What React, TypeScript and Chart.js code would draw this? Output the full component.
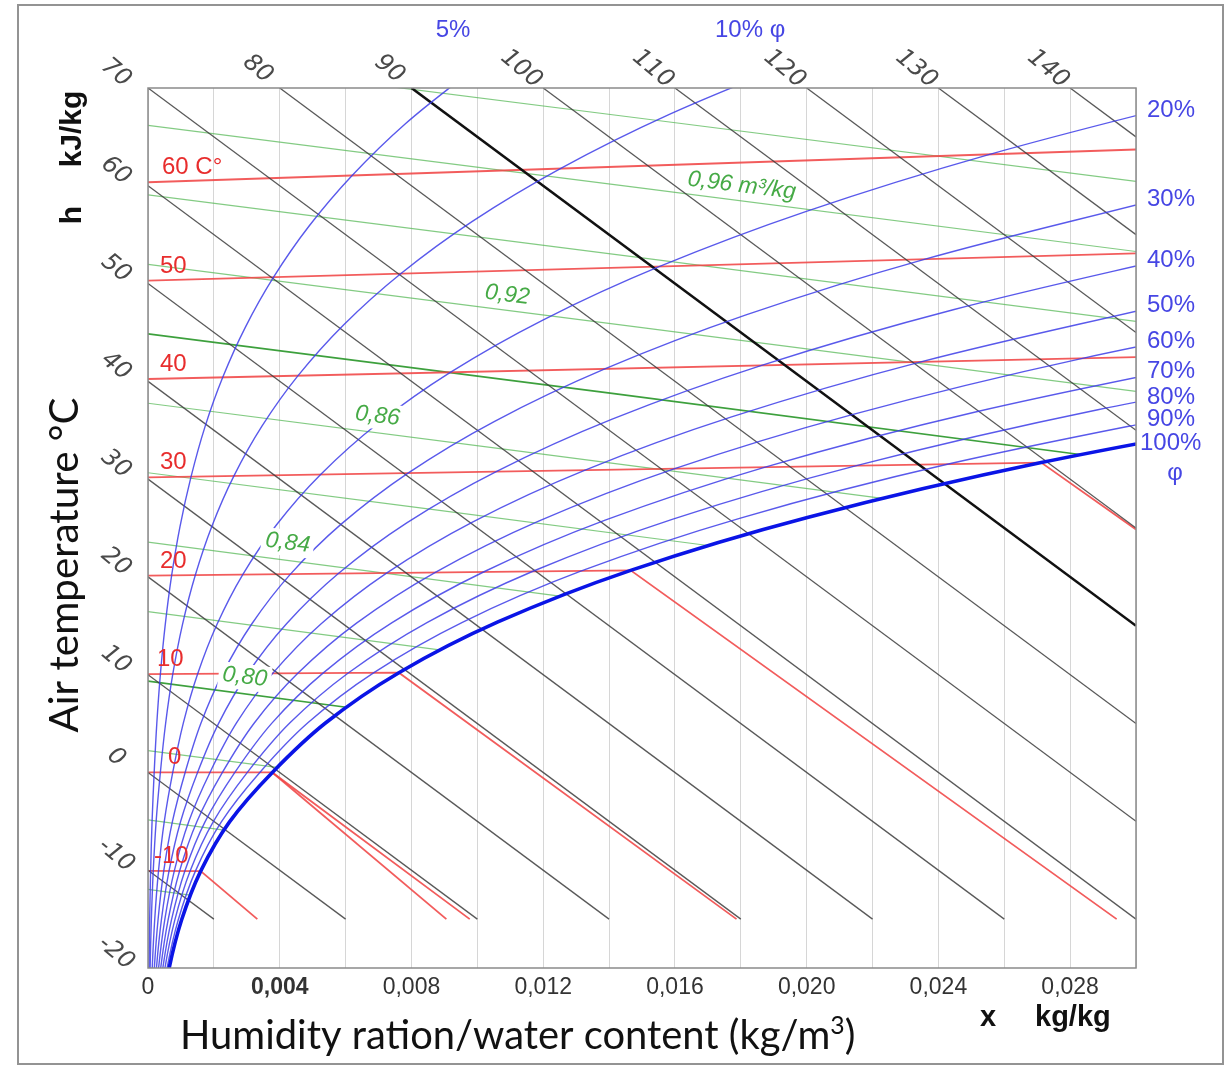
import React, { useEffect, useRef } from "react";
import { Chart, registerables } from "chart.js";

Chart.register(...registerables);

// ---------- data (x = water content kg/kg, y = chart temperature/enthalpy ordinate) ----------
const xTickValues = [0, 0.004, 0.008, 0.012, 0.016, 0.02, 0.024, 0.028];
const xTickLabels = ["0", "0,004", "0,008", "0,012", "0,016", "0,020", "0,024", "0,028"];

// relative humidity curves
const rh05 = [[0.0000194,-25.15],[0.0000317,-20.12],[0.0000507,-15.09],[0.0000798,-10.06],[0.0001233,-5.03],[0.0001876,0],[0.0002677,5.03],[0.0003765,10.06],[0.0005228,15.09],[0.0007167,20.12],[0.0009714,25.15],[0.0013023,30.18],[0.0017274,35.32],[0.0022697,40.41],[0.0029545,45.52],[0.0038126,50.65],[0.0048801,55.83],[0.0061981,61.05],[0.0078158,66.34],[0.00979,71.69]];
const rh10 = [[0.0000389,-25.15],[0.0000634,-20.12],[0.0001015,-15.09],[0.0001596,-10.06],[0.0002467,-5.03],[0.0003754,0],[0.0005357,5.03],[0.0007535,10.07],[0.0010464,15.12],[0.0014351,20.17],[0.0019459,25.24],[0.0026098,30.33],[0.0034647,35.44],[0.004556,40.58],[0.0059373,45.77],[0.0076723,51.01],[0.0098369,56.34],[0.012521,61.76],[0.01583,67.3],[0.019893,73.01]];
const rh20 = [[0.0000777,-25.15],[0.0001268,-20.12],[0.000203,-15.09],[0.0003191,-10.06],[0.0004936,-5.03],[0.0007513,0],[0.0010721,5.04],[0.0015088,10.09],[0.0020962,15.15],[0.0028769,20.23],[0.003904,25.33],[0.0052417,30.47],[0.0069682,35.66],[0.0091792,40.92],[0.011989,46.27],[0.015537,51.75],[0.01999,57.38],[0.025556,63.21],[0.032485,69.32]];
const rh30 = [[0.0001166,-25.15],[0.0001902,-20.12],[0.0003044,-15.09],[0.000479,-10.07],[0.0007407,-5.04],[0.0011276,0],[0.0016097,5.05],[0.002266,10.1],[0.0031498,15.18],[0.0043255,20.28],[0.0058745,25.42],[0.0078957,30.62],[0.010511,35.89],[0.013871,41.27],[0.018158,46.79],[0.023599,52.5],[0.030475,58.45]];
const rh40 = [[0.0001554,-25.15],[0.0002537,-20.12],[0.0004059,-15.1],[0.0006388,-10.07],[0.000988,-5.04],[0.0015044,0],[0.0021481,5.05],[0.003025,10.12],[0.0042068,15.21],[0.0057807,20.34],[0.0078573,25.52],[0.010573,30.77],[0.014094,36.13],[0.018633,41.63],[0.02445,47.32],[0.031868,53.26]];
const rh50 = [[0.0001943,-25.15],[0.0003171,-20.13],[0.0005074,-15.1],[0.0007987,-10.07],[0.0012355,-5.04],[0.0018817,0],[0.0026874,5.06],[0.0037859,10.13],[0.0052673,15.24],[0.0072426,20.39],[0.0098527,25.61],[0.013272,30.92],[0.017719,36.36],[0.023467,41.99],[0.030865,47.85]];
const rh60 = [[0.0002332,-25.15],[0.0003805,-20.13],[0.0006094,-15.11],[0.0009588,-10.08],[0.001483,-5.04],[0.0022594,0],[0.0032277,5.06],[0.0045486,10.14],[0.0063315,15.27],[0.0087115,20.44],[0.011861,25.7],[0.015994,31.07],[0.021383,36.6],[0.028375,42.35],[0.037408,48.4]];
const rh70 = [[0.000272,-25.15],[0.0004439,-20.14],[0.0007111,-15.11],[0.0011188,-10.08],[0.0017309,-5.05],[0.0026375,0],[0.0037689,5.07],[0.0053133,10.16],[0.0073993,15.3],[0.010187,20.5],[0.013882,25.8],[0.018741,31.23],[0.025092,36.84],[0.03336,42.72]];
const rh80 = [[0.0003109,-25.16],[0.0005073,-20.14],[0.0008129,-15.11],[0.001279,-10.08],[0.001979,-5.05],[0.0030162,0],[0.0043111,5.07],[0.0060796,10.17],[0.0084708,15.33],[0.01167,20.55],[0.015916,25.89],[0.021511,31.38],[0.028842,37.09],[0.038418,43.1]];
const rh90 = [[0.0003497,-25.16],[0.0005707,-20.15],[0.0009146,-15.12],[0.0014392,-10.09],[0.0022272,-5.05],[0.0033952,0],[0.0048541,5.08],[0.006848,10.19],[0.0095457,15.36],[0.01316,20.61],[0.017962,25.99],[0.024304,31.54],[0.032636,37.34]];
const rh100 = [[0.0003888,-25.16],[0.0006341,-20.14],[0.0010164,-15.12],[0.0015996,-10.09],[0.0024757,-5.05],[0.0037748,0],[0.0053982,5.08],[0.0076183,10.2],[0.010625,15.39],[0.014656,20.67],[0.020022,26.08],[0.027122,31.69],[0.036476,37.58]];
const rhCurves = [rh05, rh10, rh20, rh30, rh40, rh50, rh60, rh70, rh80, rh90];

// right-edge labels of the humidity curves (ordinate where each meets x = 0.030)
const rhLabels = ["20%", "30%", "40%", "50%", "60%", "70%", "80%", "90%", "100%"];
const rhLabelY = [67.24, 58.07, 51.87, 47.23, 43.54, 40.48, 37.88, 35.63, 33.65];

// isotherms (red); fog-region branches included
const isoM10 = [[0,-10.06],[0.0016,-10.09],[0.00332,-15]];
const iso0 = [[0,0],[0.003775,0],[0.00977,-15]];
const iso0Ice = [[0.003775,0],[0.00906,-15]];
const iso10 = [[0,10.06],[0.007618,10.2],[0.01787,-15]];
const iso20 = [[0,20.12],[0.014656,20.67],[0.029413,-15]];
const iso30 = [[0,30.18],[0.027122,31.69],[0.03,24.85]];
const iso40 = [[0,40.24],[0.03,42.47]];
const iso50 = [[0,50.3],[0.03,53.09]];
const iso60 = [[0,60.36],[0.03,63.71]];
const isotherms = [isoM10, iso0, iso0Ice, iso10, iso20, iso30, iso40, iso50, iso60];
const isoLabels = ["60 C°", "50", "40", "30", "20", "10", "0", "-10"];
const isoLabelY = [60.36, 50.3, 40.24, 30.18, 20.12, 10.06, 0, -10.06];

// enthalpy lines (black)
const enthalpyValues = [-10, 0, 10, 20, 30, 40, 50, 60, 70, 80, 90, 100, 110, 120, 130, 140];
const enthalpyStartX = [0, 0, 0, 0, 0, 0, 0, 0, 0, 0.004, 0.008, 0.012, 0.016, 0.02, 0.024, 0.028];
const enthalpyStartY = [-10, 0, 10, 20, 30, 40, 50, 60, 70, 70, 70, 70, 70, 70, 70, 70];
const enthalpyEndX = [0.002, 0.006, 0.01, 0.014, 0.018, 0.022, 0.026, 0.03, 0.03, 0.03, 0.03, 0.03, 0.03, 0.03, 0.03, 0.03];
const enthalpyEndY = [-15, -15, -15, -15, -15, -15, -15, -15, -5, 5, 15, 25, 35, 45, 55, 65];
const enthalpyLeftLabels = [70, 60, 50, 40, 30, 20, 10, 0, -10, -20];
const enthalpyTopLabels = [80, 90, 100, 110, 120, 130, 140];
const enthalpyTopX = [0.004, 0.008, 0.012, 0.016, 0.02, 0.024, 0.028];

// specific volume lines (green)
const vol074 = [[0,-11.96],[0.00128,-12.54]];
const vol076 = [[0,-4.86],[0.00231,-5.89]];
const vol078 = [[0,2.24],[0.00391,0.51]];
const vol080 = [[0,9.35],[0.00602,6.67]];
const vol082 = [[0,16.45],[0.00885,12.53]];
const vol084 = [[0,23.55],[0.0125,18.04]];
const vol086 = [[0,30.65],[0.0085,26.96],[0.017,23.21]];
const vol088 = [[0,37.76],[0.0111,32.93],[0.0223,28.03]];
const vol090 = [[0,44.86],[0.01415,38.74],[0.0283,32.52]];
const vol092 = [[0,51.96],[0.015,45.49],[0.03,38.97]];
const vol094 = [[0,59.07],[0.015,52.63],[0.03,46.13]];
const vol096 = [[0,66.17],[0.015,59.76],[0.03,53.28]];
const vol098 = [[0,73.28],[0.015,66.88],[0.03,60.44]];
const volumeLines = [vol074, vol076, vol078, vol080, vol082, vol084, vol086, vol088, vol090, vol092, vol094, vol096, vol098];
const volumeDark = [false, false, false, true, false, false, false, false, true, false, false, false, false];
const volLabels = ["0,96 m³/kg", "0,92", "0,86", "0,84", "0,80"];
const volLabelX = [0.01803, 0.01091, 0.00697, 0.00424, 0.00294];
const volLabelY = [60.0, 48.83, 36.45, 23.47, 9.76];

// ---------- helpers ----------
const pts = (arr: number[][]) => arr.map(([x, y]) => ({ x, y }));

function rotText(ctx: CanvasRenderingContext2D, text: string, x: number, y: number, deg: number, font: string, color: string, align: CanvasTextAlign = "center", baseline: CanvasTextBaseline = "middle") {
  ctx.save();
  ctx.translate(x, y);
  ctx.rotate((deg * Math.PI) / 180);
  ctx.font = font;
  ctx.fillStyle = color;
  ctx.textAlign = align;
  ctx.textBaseline = baseline;
  ctx.fillText(text, 0, 0);
  ctx.restore();
}

const annotate = {
  id: "annotate",
  afterDraw(chart: any) {
    const ctx: CanvasRenderingContext2D = chart.ctx;
    const xs = chart.scales.x;
    const ys = chart.scales.y;
    const area = chart.chartArea;
    ctx.save();

    // outer frame
    ctx.strokeStyle = "rgba(120,120,120,0.8)";
    ctx.lineWidth = 2;
    ctx.strokeRect(18, 5, 1205, 1059);

    // plot frame
    ctx.strokeStyle = "#8a8a8a";
    ctx.lineWidth = 1.5;
    ctx.strokeRect(area.left, area.top, area.right - area.left, area.bottom - area.top);

    // green volume labels with white boxes
    volLabels.forEach((t, i) => {
      const px = xs.getPixelForValue(volLabelX[i]);
      const py = ys.getPixelForValue(volLabelY[i]);
      ctx.save();
      ctx.translate(px, py);
      ctx.rotate((7 * Math.PI) / 180);
      ctx.font = 'italic 23px "Liberation Sans"';
      const w = ctx.measureText(t).width;
      if (i >= 2) {
        ctx.fillStyle = "#ffffff";
        ctx.fillRect(-w / 2 - 4, -13, w + 8, 26);
      }
      ctx.fillStyle = "rgb(70,170,70)";
      ctx.textAlign = "center";
      ctx.textBaseline = "middle";
      ctx.fillText(t, 0, 0);
      ctx.restore();
    });

    // red isotherm labels
    const isoLeft = [162, 160, 160, 160, 160, 157, 168, 154];
    ctx.font = '24px "Liberation Sans"';
    ctx.fillStyle = "rgb(232,45,45)";
    ctx.textAlign = "left";
    ctx.textBaseline = "alphabetic";
    isoLabels.forEach((t, i) => {
      ctx.fillText(t, isoLeft[i], ys.getPixelForValue(isoLabelY[i]) - 8);
    });

    // blue humidity labels (right)
    ctx.font = '24px "Liberation Sans"';
    ctx.fillStyle = "rgb(70,70,228)";
    ctx.textBaseline = "middle";
    rhLabels.forEach((t, i) => {
      const py = ys.getPixelForValue(rhLabelY[i]) - (i === rhLabels.length - 1 ? 0 : 5);
      ctx.textAlign = "left";
      ctx.fillText(t, i === rhLabels.length - 1 ? 1140 : 1147, py);
    });
    ctx.textAlign = "center";
    ctx.fillText("φ", 1175, ys.getPixelForValue(rhLabelY[rhLabelY.length - 1]) + 30);
    // top humidity labels
    ctx.fillText("5%", 453, 30);
    ctx.textAlign = "left";
    ctx.fillText("10% φ", 715, 30);

    // enthalpy labels (rotated, italic)
    const eFont = 'italic 24px "DejaVu Sans"';
    enthalpyLeftLabels.forEach((v) => {
      rotText(ctx, String(v), 116, ys.getPixelForValue(v) - 15, 40, eFont, "#4a4a4a");
    });
    enthalpyTopLabels.forEach((v, i) => {
      rotText(ctx, String(v), xs.getPixelForValue(enthalpyTopX[i]) - 22, 69, 40, eFont, "#4a4a4a");
    });

    // x tick labels
    ctx.fillStyle = "#333";
    ctx.textAlign = "center";
    ctx.textBaseline = "middle";
    xTickValues.forEach((v, i) => {
      ctx.font = (i === 1 ? "bold " : "") + '23px "Liberation Sans"';
      ctx.fillText(xTickLabels[i], xs.getPixelForValue(v), 988);
    });

    // x axis title with superscript
    const main = "Humidity ration/water content (kg/m";
    let size = 34;
    ctx.font = `${size}px Lato`;
    let total = ctx.measureText(main).width + ctx.measureText(")").width;
    ctx.font = `${size * 0.6}px Lato`;
    total += ctx.measureText("3").width;
    size = size * (675 / total);
    ctx.fillStyle = "#111";
    ctx.textAlign = "left";
    ctx.textBaseline = "alphabetic";
    ctx.font = `${size}px Lato`;
    let cx = 180;
    ctx.fillText(main, cx, 1049);
    cx += ctx.measureText(main).width;
    ctx.font = `${size * 0.62}px Lato`;
    ctx.fillText("3", cx, 1049 - size * 0.38);
    cx += ctx.measureText("3").width;
    ctx.font = `${size}px Lato`;
    ctx.fillText(")", cx, 1049);

    // x unit
    ctx.font = 'bold 29px "Liberation Sans"';
    ctx.fillText("x", 980, 1026);
    ctx.fillText("kg/kg", 1035, 1026);

    // y axis title (rotated)
    ctx.save();
    ctx.translate(78, 565);
    ctx.rotate(-Math.PI / 2);
    let ys2 = 37;
    ctx.font = `${ys2}px Lato`;
    const yt = "Air temperature °C";
    ys2 = ys2 * (335 / ctx.measureText(yt).width);
    ctx.font = `${ys2}px Lato`;
    ctx.textAlign = "center";
    ctx.textBaseline = "alphabetic";
    ctx.fillStyle = "#111";
    ctx.fillText(yt, 0, 0);
    ctx.restore();

    // h kJ/kg (rotated)
    ctx.save();
    ctx.translate(81, 0);
    ctx.rotate(-Math.PI / 2);
    ctx.font = 'bold 30px "Liberation Sans"';
    ctx.fillStyle = "#111";
    ctx.textAlign = "center";
    ctx.textBaseline = "alphabetic";
    ctx.fillText("h", -215, 0);
    ctx.fillText("kJ/kg", -129, 0);
    ctx.restore();

    ctx.restore();
  },
};

export default function App() {
  const ref = useRef<HTMLCanvasElement | null>(null);

  useEffect(() => {
    if (!ref.current) return;
    const datasets: any[] = [];

    volumeLines.forEach((line, i) => {
      datasets.push({
        data: pts(line),
        showLine: true,
        borderColor: volumeDark[i] ? "rgba(40,150,40,0.9)" : "rgba(90,185,90,0.75)",
        borderWidth: volumeDark[i] ? 1.7 : 1.2,
        pointRadius: 0,
        tension: 0,
        order: 5,
      });
    });

    isotherms.forEach((line) => {
      datasets.push({
        data: pts(line),
        showLine: true,
        borderColor: "rgba(240,70,70,0.88)",
        borderWidth: 1.8,
        pointRadius: 0,
        tension: 0,
        order: 4,
      });
    });

    enthalpyValues.forEach((h, i) => {
      datasets.push({
        data: [
          { x: enthalpyStartX[i], y: enthalpyStartY[i] },
          { x: enthalpyEndX[i], y: enthalpyEndY[i] },
        ],
        showLine: true,
        borderColor: h === 90 ? "#111" : "rgba(60,60,60,0.85)",
        borderWidth: h === 90 ? 2.6 : 1.3,
        pointRadius: 0,
        tension: 0,
        order: 3,
      });
    });

    rhCurves.forEach((c) => {
      datasets.push({
        data: pts(c),
        showLine: true,
        borderColor: "rgba(60,60,232,0.85)",
        borderWidth: 1.4,
        pointRadius: 0,
        tension: 0.35,
        order: 2,
      });
    });
    datasets.push({
      data: pts(rh100),
      showLine: true,
      borderColor: "#0a14e6",
      borderWidth: 3.6,
      pointRadius: 0,
      tension: 0.35,
      order: 1,
    });

    const chart = new Chart(ref.current, {
      type: "scatter",
      data: { datasets },
      options: {
        responsive: false,
        animation: false,
        events: [],
        layout: { padding: { left: 148, top: 88, right: 92, bottom: 99 } },
        plugins: { legend: { display: false }, tooltip: { enabled: false } },
        elements: { point: { radius: 0 }, line: { capBezierPoints: false } },
        scales: {
          x: {
            type: "linear",
            min: 0,
            max: 0.03,
            ticks: { display: false, stepSize: 0.002 },
            grid: { color: "#d6d6d6", lineWidth: 1, drawTicks: false },
            border: { display: false },
            afterFit: (s: any) => { s.height = 0; },
          },
          y: {
            type: "linear",
            min: -20,
            max: 70,
            ticks: { display: false },
            grid: { display: false, drawTicks: false },
            border: { display: false },
            afterFit: (s: any) => { s.width = 0; },
          },
        },
      } as any,
      plugins: [annotate],
    });
    return () => chart.destroy();
  }, []);

  return (
    <div style={{ position: "fixed", left: 0, top: 0, width: 1228, height: 1067, background: "#fff" }}>
      <canvas ref={ref} width={1228} height={1067} style={{ display: "block", width: "1228px", height: "1067px" }} />
    </div>
  );
}
